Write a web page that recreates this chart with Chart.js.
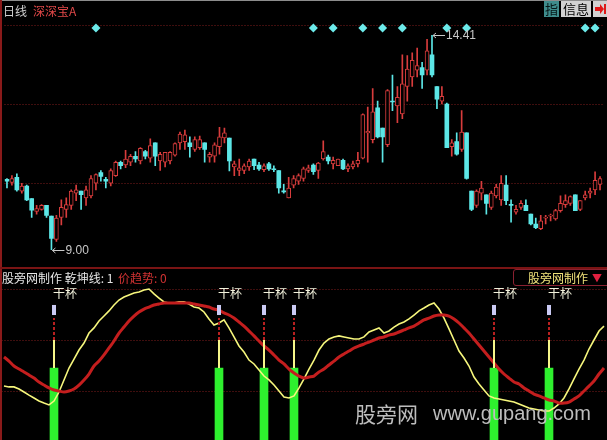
<!DOCTYPE html>
<html><head><meta charset="utf-8">
<script src="https://cdn.jsdelivr.net/npm/chart.js@4.4.1/dist/chart.umd.min.js"></script>
<style>
html,body{margin:0;padding:0;background:#000;}
#wrap{position:relative;width:607px;height:440px;overflow:hidden;background:#000;font-family:"Noto Sans CJK SC","Liberation Sans",sans-serif;}
canvas{position:absolute;left:0;}
#top{top:0;}
#bot{top:268px;}
.t{position:absolute;white-space:nowrap;font-size:12px;line-height:14px;}
</style></head><body>
<div id="wrap">
<canvas id="top" width="607" height="268"></canvas>
<canvas id="bot" width="607" height="172"></canvas>
<div style="position:absolute;left:0;top:0;width:607px;height:1px;background:#8c8c8c"></div>
<div style="position:absolute;left:0;top:0;width:2px;height:440px;background:#8a1a1a"></div>
<div style="position:absolute;left:0;top:267px;width:607px;height:2px;background:#7a1414"></div>
<div class="t" style="left:3px;top:4px;color:#d0d0d0">日线</div>
<div class="t" style="left:33px;top:4px;color:#e04848">深深宝A</div>
<div class="t" style="left:544px;top:1px;width:15px;height:16px;background:#3f8c8c;color:#061616;font-size:13px;line-height:16px;text-align:center">指</div>
<div class="t" style="left:561px;top:1px;width:30px;height:16px;background:#d2d2d2;color:#000;font-size:13px;line-height:16px;text-align:center">信息</div>
<div style="position:absolute;left:593px;top:1px;width:14px;height:16px;background:#d2d2d2"></div>
<div style="position:absolute;left:595px;top:7px;width:5px;height:4px;background:#e01818"></div>
<div style="position:absolute;left:600px;top:4px;width:0;height:0;border-top:5px solid transparent;border-bottom:5px solid transparent;border-left:4px solid #e01818"></div>
<div style="position:absolute;left:604px;top:4px;width:2px;height:10px;background:#e01818"></div>
<div class="t" style="left:2px;top:271px;color:#e6e6e6">股旁网制作 乾坤线: 1</div>
<div class="t" style="left:118px;top:271px;color:#d03232">价趋势: 0</div>
<div style="position:absolute;left:513px;top:269px;width:100px;height:17px;border:1px solid #8a2030;border-radius:3px;box-sizing:border-box"></div>
<div class="t" style="left:528px;top:271px;color:#f0e27a">股旁网制作</div>
<div class="t" style="left:592px;top:271px;color:#e02040;font-size:10px">▼</div>
<div class="t" style="left:355px;top:401px;color:#bdbdbd;font-size:21px;line-height:24px">股旁网</div>
<div class="t" style="left:433px;top:401px;color:#bdbdbd;font-size:20px;line-height:24px;font-family:'Liberation Sans',sans-serif">www.gupang.com</div>
</div>
<script>
// ---- data ----
const days = Array.from({length: 121}, (_, i) => 'D' + (i + 1));
const open  = [10.78,10.70,10.83,10.48,10.61,10.29,9.97,10.02,10.12,9.85,9.26,9.82,10.02,10.12,10.43,10.48,10.31,10.36,10.68,10.95,10.78,10.68,10.87,11.21,11.14,11.21,11.36,11.24,11.48,11.31,11.70,11.24,11.21,11.24,11.39,11.70,11.73,11.70,11.53,11.58,11.70,11.34,11.36,11.60,11.82,11.82,11.09,11.00,11.00,11.09,11.29,11.14,11.02,11.17,11.04,11.00,10.48,10.31,10.63,10.73,10.80,11.00,11.14,11.00,11.29,11.34,11.17,11.12,11.26,11.04,11.09,11.17,11.31,11.95,11.78,12.58,12.07,11.65,12.75,12.63,12.43,13.12,13.36,13.53,13.60,13.53,13.92,13.12,12.75,12.68,11.60,11.73,11.53,11.95,10.48,10.12,10.43,10.39,10.07,10.36,10.26,10.63,10.14,9.95,10.07,10.12,9.90,9.65,9.53,9.80,9.85,9.78,9.99,10.14,10.17,10.39,10.02,10.31,10.43,10.51,10.65];
const close = [10.73,10.80,10.51,10.61,10.26,10.00,10.04,10.12,9.87,9.29,9.80,10.07,10.14,10.48,10.51,10.39,10.51,10.80,10.90,10.85,10.73,11.00,11.21,11.12,11.29,11.36,11.29,11.56,11.36,11.63,11.36,11.41,11.46,11.46,11.68,11.92,11.90,11.60,11.78,11.78,11.53,11.41,11.65,11.85,11.95,11.24,11.17,11.07,11.12,11.24,11.12,11.04,11.12,11.04,11.02,10.56,10.46,10.56,10.80,10.87,11.04,11.07,10.97,11.19,11.48,11.24,11.26,11.29,11.04,11.12,11.17,11.26,12.41,11.99,12.48,11.85,11.85,13.02,12.73,12.85,13.19,13.56,13.78,13.65,13.41,14.02,13.41,12.80,12.87,11.58,11.70,11.41,11.97,10.80,10.02,10.48,10.56,10.17,10.43,10.58,10.68,10.24,10.12,10.02,10.17,9.99,9.65,9.56,9.73,9.82,9.87,9.99,10.17,10.24,10.34,9.99,10.24,10.39,10.48,10.75,10.80];
const high  = [10.80,10.87,10.92,10.68,10.63,10.29,10.12,10.14,10.12,9.85,9.87,10.26,10.31,10.51,10.63,10.48,10.61,10.87,10.92,11.00,10.83,11.04,11.24,11.24,11.51,11.41,11.48,11.58,11.51,11.80,11.70,11.46,11.46,11.48,11.70,11.97,12.02,11.85,11.85,11.87,11.70,11.46,11.70,12.09,12.07,11.82,11.24,11.29,11.17,11.29,11.29,11.21,11.17,11.21,11.12,11.00,10.65,10.83,10.87,10.92,11.09,11.14,11.17,11.21,11.75,11.39,11.34,11.29,11.29,11.17,11.24,11.46,12.43,12.60,13.07,12.75,12.07,13.04,13.41,13.12,13.92,13.90,13.97,14.09,13.73,14.31,14.41,13.12,13.12,12.70,11.78,11.95,12.51,11.95,10.48,10.51,10.73,10.39,10.48,10.65,10.87,10.87,10.26,10.12,10.24,10.26,9.90,9.80,9.87,9.87,9.90,10.02,10.36,10.39,10.36,10.39,10.24,10.48,10.56,10.97,10.85];
const low   = [10.56,10.63,10.48,10.43,10.24,9.82,9.90,10.00,9.82,9.00,9.21,9.63,9.82,10.02,10.24,10.02,10.12,10.31,10.51,10.73,10.56,10.61,10.85,11.04,11.07,11.12,11.21,11.17,11.29,11.21,11.12,11.00,11.09,11.17,11.36,11.53,11.53,11.34,11.48,11.53,11.21,11.21,11.21,11.41,11.70,10.99,10.87,10.87,10.92,11.00,11.02,11.00,10.97,11.00,10.97,10.43,10.43,10.31,10.56,10.65,10.73,10.95,10.90,10.80,11.26,11.17,11.04,11.12,11.02,10.97,11.04,11.09,11.29,11.21,11.70,11.82,11.21,11.60,12.51,12.21,12.31,12.75,13.12,13.36,13.07,13.41,13.36,12.56,12.68,11.58,11.36,11.39,11.48,10.78,9.99,10.07,10.26,9.90,10.02,10.31,10.12,10.14,9.70,9.90,10.02,9.99,9.63,9.53,9.51,9.65,9.73,9.75,9.95,10.07,10.12,9.99,9.99,10.26,10.31,10.39,10.51];
const qiankun = [22.9,22.4,22.4,21.2,19.4,17.6,15.9,14.1,12.9,11.8,14.1,19.4,26.5,33.5,38.8,44.1,48.2,54.1,57.1,61.2,64.1,67.1,70.6,73.5,75.3,76.5,77.6,78.2,79.4,80.0,77.1,74.7,72.4,71.8,71.8,72.4,72.4,71.2,69.4,68.8,66.5,62.4,58.8,60.0,61.8,57.1,51.8,46.5,42.9,38.2,35.9,32.4,28.8,26.5,23.5,20.0,16.5,15.9,17.1,21.8,27.1,32.9,38.2,44.1,48.2,50.6,51.8,52.4,51.8,51.2,50.6,50.6,51.8,54.7,55.9,57.1,54.1,55.3,57.6,59.4,60.6,62.4,64.7,67.1,68.8,70.6,71.8,68.2,62.9,56.5,50.0,43.5,39.4,34.7,28.2,24.1,20.6,17.1,15.9,15.3,14.7,14.1,13.5,12.4,11.2,10.0,9.4,8.8,8.2,8.2,10.0,12.4,15.9,21.2,27.1,32.9,38.2,44.7,50.0,55.3,58.2];
const trend = [40.0,37.6,34.7,32.9,31.2,29.4,27.6,25.3,23.5,21.8,20.6,20.0,19.4,20.0,21.2,23.5,26.5,30.0,34.7,37.6,41.2,45.3,49.4,54.1,57.6,61.2,64.1,66.5,68.2,69.4,70.6,71.2,71.8,71.8,71.8,71.8,71.8,71.8,71.2,70.6,70.0,69.4,68.2,67.6,65.9,64.7,62.9,60.6,58.2,55.3,52.4,49.4,46.5,44.1,41.2,38.2,35.9,32.9,30.6,28.8,27.6,28.2,28.8,31.2,32.9,35.3,37.6,40.0,41.8,43.5,45.3,46.5,47.6,48.8,50.0,51.2,51.8,52.9,53.5,54.7,55.9,57.1,58.2,60.0,61.8,62.9,64.1,64.7,64.7,64.1,62.4,60.0,57.1,54.1,50.6,47.1,43.5,40.0,36.5,32.9,30.0,27.6,25.3,24.1,21.8,20.0,18.2,17.1,15.9,14.7,14.1,12.9,12.9,13.5,15.3,17.1,20.0,22.9,25.9,30.0,33.5];
const diamondDays = [18, 62, 66, 72, 76, 80, 89, 93, 117, 119];
const signalDays  = [10, 43, 52, 58, 98, 109];
const signalText  = '干杯';
const priceGridLevels = [10.68, 12.68, 14.68];
const indicatorGridLevels = [20, 50, 80];

// ---- layout constants (not data) ----
const PRICE_MIN = 8.654, PRICE_MAX = 15.19, DIAMOND_LEVEL = 14.60;
const IND_MIN = -8.82, IND_MAX = 92.35;
const SIG_BAR_TOP = 33.5, SIG_LINK_TOP = 50, SIG_DASH_TOP = 62.9, SIG_MARK_LO = 64.7, SIG_MARK_HI = 70.6, SIG_TEXT = 77.1;
const UP = '#d83c3c', DOWN = '#5ce6e6', GRID = '#7e1c1c';

const isUp = i => close[i] >= open[i];

function gridPlugin(levels) {
  return {
    id: 'dotGrid',
    beforeDatasetsDraw(chart) {
      const {ctx, chartArea, scales} = chart;
      ctx.save();
      ctx.strokeStyle = GRID; ctx.lineWidth = 1; ctx.setLineDash([1, 2]);
      levels.forEach(v => {
        const y = Math.round(scales.y.getPixelForValue(v)) + 0.5;
        ctx.beginPath(); ctx.moveTo(chartArea.left, y); ctx.lineTo(chartArea.right, y); ctx.stroke();
      });
      ctx.restore();
    }
  };
}

const extremePlugin = {
  id: 'extremes',
  afterDatasetsDraw(chart) {
    const {ctx, scales} = chart;
    let iMax = 0, iMin = 0;
    high.forEach((v, i) => { if (v > high[iMax]) iMax = i; });
    low.forEach((v, i) => { if (v < low[iMin]) iMin = i; });
    ctx.save();
    ctx.strokeStyle = '#c8c8c8'; ctx.fillStyle = '#c8c8c8'; ctx.lineWidth = 1;
    ctx.font = '12px "Liberation Sans", Arial, sans-serif'; ctx.textBaseline = 'middle';
    [[iMax, high[iMax]], [iMin, low[iMin]]].forEach(([i, v]) => {
      const x = scales.x.getPixelForValue(i);
      const y = Math.round(scales.y.getPixelForValue(v)) + 0.5;
      ctx.beginPath(); ctx.moveTo(x + 1, y); ctx.lineTo(x + 13, y);
      ctx.moveTo(x + 4, y - 2.5); ctx.lineTo(x + 1, y); ctx.lineTo(x + 4, y + 2.5); ctx.stroke();
      ctx.fillText(v.toFixed(2), x + 14, y);
    });
    ctx.restore();
  }
};

new Chart(document.getElementById('top'), {
  type: 'bar',
  data: {
    labels: days,
    datasets: [
      { type: 'bar', data: days.map((_, i) => [low[i], high[i]]), barThickness: 1, grouped: false, order: 3,
        backgroundColor: ctx => isUp(ctx.dataIndex) ? UP : DOWN },
      { type: 'bar', data: days.map((_, i) => [open[i], close[i]]), barThickness: 4, grouped: false, order: 2,
        minBarLength: 1, borderSkipped: false,
        backgroundColor: ctx => isUp(ctx.dataIndex) ? '#000' : DOWN,
        borderColor: ctx => isUp(ctx.dataIndex) ? UP : DOWN,
        borderWidth: ctx => isUp(ctx.dataIndex) ? 1 : 0 },
      { type: 'line', data: days.map((_, i) => diamondDays.includes(i) ? DIAMOND_LEVEL : null), showLine: false, order: 1,
        pointStyle: 'rectRot', pointRadius: 4.5, pointBackgroundColor: '#6ceaea', pointBorderWidth: 0 }
    ]
  },
  options: {
    responsive: false, animation: false, devicePixelRatio: 1,
    layout: { padding: { left: 1.5, right: 0.5, top: 0, bottom: 0 } },
    plugins: { legend: { display: false }, tooltip: { enabled: false } },
    scales: {
      x: { display: false, offset: true },
      y: { display: false, min: PRICE_MIN, max: PRICE_MAX }
    }
  },
  plugins: [gridPlugin(priceGridLevels), extremePlugin]
});

const signalPlugin = {
  id: 'signals',
  afterDatasetsDraw(chart) {
    const {ctx, scales} = chart;
    const Y = v => scales.y.getPixelForValue(v);
    ctx.save();
    signalDays.forEach(i => {
      const x = scales.x.getPixelForValue(i);
      ctx.setLineDash([]);
      ctx.strokeStyle = '#f6f68a'; ctx.lineWidth = 2;
      ctx.beginPath(); ctx.moveTo(x, Y(SIG_BAR_TOP)); ctx.lineTo(x, Y(SIG_LINK_TOP)); ctx.stroke();
      ctx.strokeStyle = '#b82020'; ctx.setLineDash([3, 2]);
      ctx.beginPath(); ctx.moveTo(x, Y(SIG_LINK_TOP)); ctx.lineTo(x, Y(SIG_DASH_TOP)); ctx.stroke();
      ctx.setLineDash([]);
      ctx.fillStyle = '#cacaf4';
      ctx.fillRect(x - 2, Y(SIG_MARK_HI), 4, Y(SIG_MARK_LO) - Y(SIG_MARK_HI));
      ctx.fillStyle = '#f2f2dc'; ctx.font = '12px "Noto Sans CJK SC", sans-serif'; ctx.textBaseline = 'middle';
      ctx.fillText(signalText, x - 1, Y(SIG_TEXT));
    });
    ctx.restore();
  }
};

new Chart(document.getElementById('bot'), {
  type: 'bar',
  data: {
    labels: days,
    datasets: [
      { type: 'bar', data: days.map((_, i) => signalDays.includes(i) ? [IND_MIN, SIG_BAR_TOP] : null),
        barThickness: 8, grouped: false, order: 4, backgroundColor: '#2ef02e' },
      { type: 'line', data: qiankun, borderColor: '#f6f67c', borderWidth: 1.6, pointRadius: 0, tension: 0, order: 2 },
      { type: 'line', data: trend, borderColor: '#c41e1e', borderWidth: 3, pointRadius: 0, tension: 0.3, order: 1 }
    ]
  },
  options: {
    responsive: false, animation: false, devicePixelRatio: 1,
    layout: { padding: { left: 1.5, right: 0.5, top: 0, bottom: 0 } },
    plugins: { legend: { display: false }, tooltip: { enabled: false } },
    scales: {
      x: { display: false, offset: true },
      y: { display: false, min: IND_MIN, max: IND_MAX }
    }
  },
  plugins: [gridPlugin(indicatorGridLevels), signalPlugin]
});
</script>
</body></html>
